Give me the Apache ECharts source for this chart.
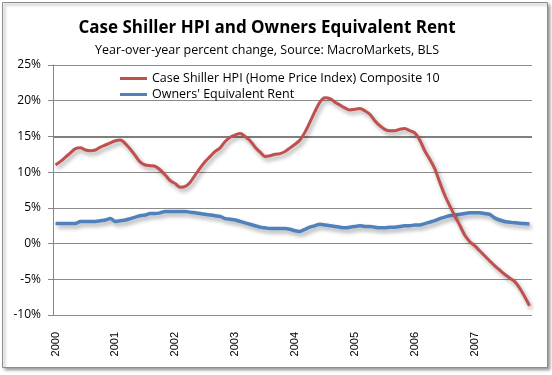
<!DOCTYPE html>
<html>
<head>
<meta charset="utf-8">
<script src="https://cdn.jsdelivr.net/npm/echarts@6/dist/echarts.min.js"></script>
<style>html,body{margin:0;padding:0;background:#fff}#c{width:552px;height:375px}</style>
</head>
<body>
<div id="c"></div>
<script>
var years = ['2000','2001','2002','2003','2004','2005','2006','2007'];
var monthsPerYear = 12;
var hpiName = 'Case Shiller HPI (Home Price Index) Composite 10';
var oerName = "Owners' Equivalent Rent";
var hpi = [
 11.0,11.5,12.1,12.7,13.3,13.4,13.1,13.0,13.1,13.5,13.8,14.1,
 14.4,14.5,14.0,13.2,12.3,11.4,11.0,10.9,10.8,10.3,9.6,8.8,
 8.4,7.9,8.0,8.6,9.6,10.6,11.5,12.2,12.9,13.4,14.3,14.9,
 15.2,15.4,15.0,14.4,13.5,12.8,12.2,12.3,12.5,12.6,12.9,13.4,
 13.9,14.5,15.6,17.0,18.5,19.8,20.4,20.3,19.8,19.4,19.0,18.7,
 18.8,18.9,18.6,18.1,17.2,16.5,16.0,15.8,15.8,16.0,16.1,15.8,
 15.5,14.5,13.0,11.8,10.5,8.6,6.8,5.3,3.9,2.6,1.2,0.3,
 -0.3,-1.0,-1.7,-2.4,-3.1,-3.7,-4.3,-4.8,-5.3,-6.2,-7.4,-8.7
];
var oer = [
 2.8,2.8,2.8,2.8,2.8,3.1,3.1,3.1,3.1,3.2,3.3,3.5,
 3.1,3.2,3.3,3.5,3.7,3.9,4.0,4.2,4.2,4.3,4.5,4.5,
 4.5,4.5,4.5,4.4,4.3,4.2,4.1,4.0,3.9,3.8,3.5,3.4,
 3.3,3.1,2.9,2.7,2.5,2.3,2.2,2.1,2.1,2.1,2.1,2.0,
 1.8,1.7,2.0,2.3,2.5,2.7,2.6,2.5,2.4,2.3,2.2,2.3,
 2.4,2.5,2.4,2.4,2.3,2.2,2.2,2.3,2.3,2.4,2.5,2.5,
 2.6,2.6,2.8,3.0,3.2,3.5,3.7,3.9,4.0,4.1,4.2,4.3,
 4.3,4.3,4.2,4.1,3.6,3.3,3.1,3.0,2.9,2.85,2.8,2.75
];
var yTicks = {min:-10, max:25, interval:5};

var categories = [];
years.forEach(function(y){ for (var m=1;m<=monthsPerYear;m++) categories.push(y+'-'+(m<10?'0'+m:m)); });

var chart = echarts.init(document.getElementById('c'), null, {renderer:'canvas'});
var shadow = {shadowColor:'rgba(0,0,0,0.35)', shadowBlur:4, shadowOffsetX:2, shadowOffsetY:3};
chart.setOption({
  backgroundColor:'#fff',
  animation:false,
  graphic:[{type:'rect', z:-100, shape:{x:2.5,y:2.5,width:545,height:365},
    style:{fill:'#fff', stroke:'#8c8c8c', lineWidth:1, shadowColor:'rgba(0,0,0,0.4)', shadowBlur:3, shadowOffsetX:2, shadowOffsetY:2}}],
  title:{
    text:'Case Shiller HPI and Owners Equivalent Rent',
    subtext:'Year-over-year percent change, Source: MacroMarkets, BLS',
    left:262, textAlign:'center', top:15, itemGap:7,
    textStyle:{fontFamily:'Open Sans', fontWeight:'bold', fontSize:17, color:'#000'},
    subtextStyle:{fontFamily:'Open Sans', fontSize:12.5, color:'#000'}
  },
  legend:{
    orient:'vertical', left:115, top:67, itemWidth:27, itemHeight:3, itemGap:3, icon:'rect',
    textStyle:{fontFamily:'Open Sans', fontSize:12.5, color:'#000'}
  },
  grid:{left:53, right:20, top:65, bottom:60},
  xAxis:{
    type:'category', data:categories, boundaryGap:true,
    axisLine:{lineStyle:{color:'#868686'}},
    axisTick:{show:false},
    axisLabel:{rotate:90, margin:17, fontFamily:'Liberation Sans', fontSize:11, color:'#000',
      interval:function(i){return i % monthsPerYear === 0;},
      formatter:function(v){return v.slice(0,4);}}
  },
  yAxis:{
    type:'value', min:yTicks.min, max:yTicks.max, interval:yTicks.interval,
    axisLine:{show:true, lineStyle:{color:'#868686'}},
    axisTick:{show:true, length:5, lineStyle:{color:'#868686'}},
    axisLabel:{formatter:'{value}%', fontFamily:'Open Sans', fontSize:12, color:'#000', margin:12},
    splitLine:{lineStyle:{color:'#8c8c8c', width:1}}
  },
  series:[
    {name:hpiName, type:'line', data:hpi, showSymbol:false, smooth:0.3, color:'#C0504D',
     lineStyle:Object.assign({width:3, color:'#C0504D'}, shadow), z:3,
     markLine:{silent:true, symbol:'none', label:{show:false}, z:1,
       lineStyle:{color:'#7f7f7f', width:2, type:'solid', shadowBlur:0},
       data:[{yAxis:15}]}},
    {name:oerName, type:'line', data:oer, showSymbol:false, smooth:0.3, color:'#4F81BD',
     lineStyle:Object.assign({width:3.5, color:'#4F81BD'}, shadow), z:2}
  ]
});
</script>
</body>
</html>
